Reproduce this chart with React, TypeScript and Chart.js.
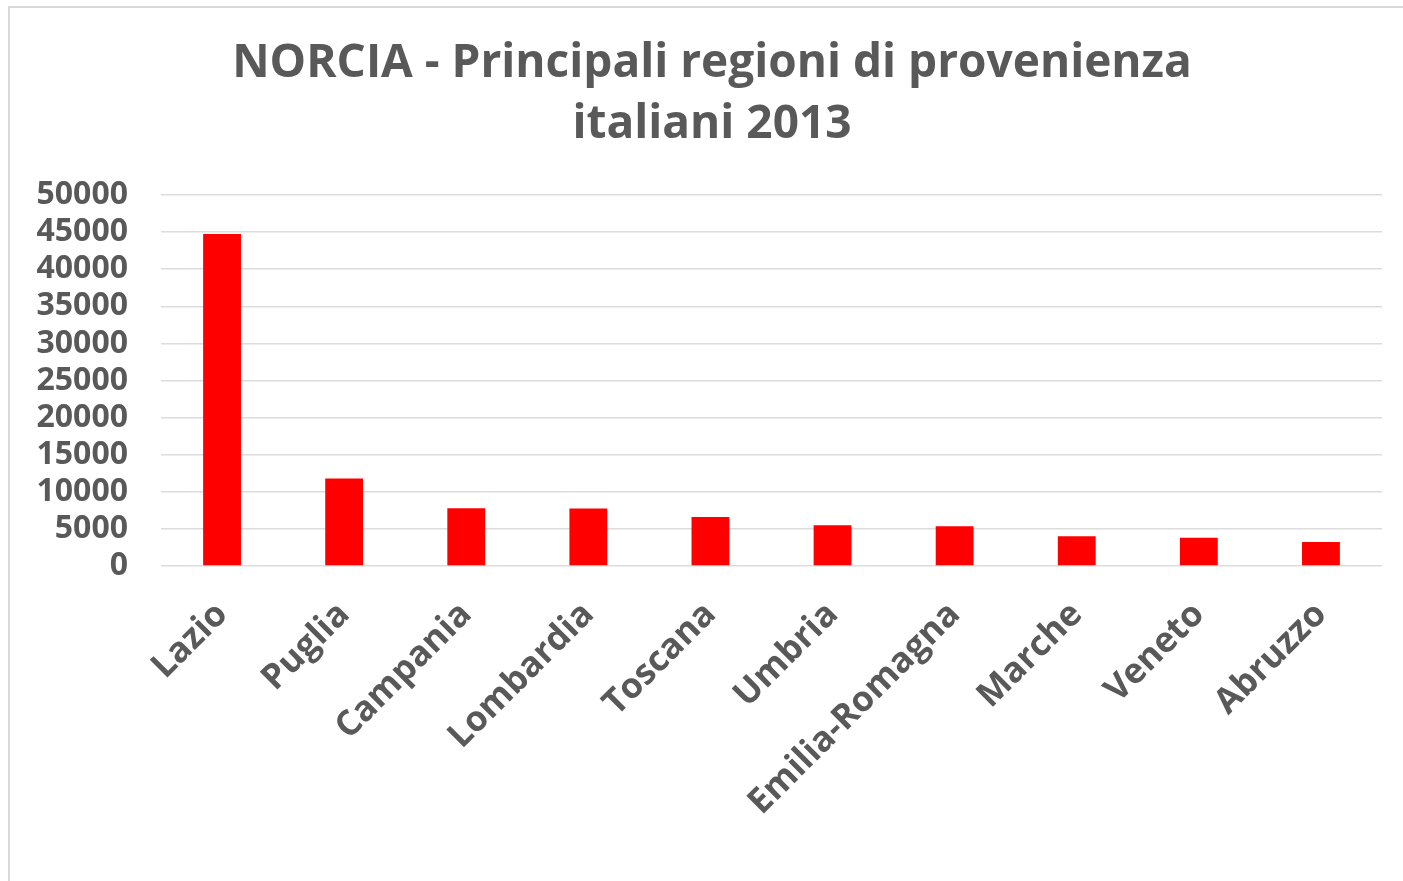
import React, { useEffect, useRef } from "react";
import { Chart, registerables } from "chart.js";

Chart.register(...registerables);

const titleLines = ["NORCIA - Principali regioni di provenienza", "italiani 2013"];
const regions = [
  "Lazio",
  "Puglia",
  "Campania",
  "Lombardia",
  "Toscana",
  "Umbria",
  "Emilia-Romagna",
  "Marche",
  "Veneto",
  "Abruzzo",
];
const arrivals = [44750, 11800, 7780, 7760, 6600, 5480, 5350, 4000, 3820, 3240];
const yMin = 0;
const yMax = 50000;
const yStep = 5000;

const TEXT = "#595959";
const FONT = "'Open Sans', 'DejaVu Sans', sans-serif";

// shifts the title's horizontal box so it is centred over the whole chart frame
const titleShift = {
  id: "titleShift",
  afterLayout(chart: any) {
    const t = chart.titleBlock;
    if (t) {
      t.left = 32;
    }
  },
};

export default function App() {
  const ref = useRef<HTMLCanvasElement>(null);

  useEffect(() => {
    if (!ref.current) return;
    const chart = new Chart(ref.current, {
      type: "bar",
      data: {
        labels: regions,
        datasets: [
          {
            data: arrivals,
            backgroundColor: "#ff0000",
            borderWidth: 0,
            barPercentage: 0.62,
            categoryPercentage: 0.5,
          },
        ],
      },
      plugins: [titleShift],
      options: {
        responsive: false,
        animation: false,
        layout: { padding: { left: 0, right: 48, top: 0, bottom: 0 } },
        plugins: {
          legend: { display: false },
          tooltip: { enabled: false },
          title: {
            display: true,
            text: titleLines,
            color: TEXT,
            font: { family: FONT, size: 46, weight: "bold", lineHeight: 1.326 },
            padding: { top: 25, bottom: 40 },
          },
        },
        scales: {
          x: {
            grid: { display: false, drawTicks: false },
            border: { display: false },
            ticks: {
              color: TEXT,
              font: { family: FONT, size: 35, weight: "bold" },
              maxRotation: 45,
              minRotation: 45,
              autoSkip: false,
              padding: 28,
            },
            afterFit: (s: any) => {
              s.height = 315;
            },
          },
          y: {
            min: yMin,
            max: yMax,
            grid: { color: "#dcdcdc", lineWidth: 1.5, drawTicks: false },
            border: { display: false },
            ticks: {
              stepSize: yStep,
              autoSkip: false,
              color: TEXT,
              font: { family: FONT, size: 32, weight: "bold" },
              padding: 33,
              callback: (v: any) => String(v),
            },
            afterFit: (s: any) => {
              s.width = 151;
            },
          },
        },
      },
    });
    return () => chart.destroy();
  }, []);

  return (
    <div style={{ position: "fixed", inset: 0, overflow: "hidden", background: "#fff" }}>
      <div
        style={{
          position: "absolute",
          left: 8,
          top: 6,
          width: 1420,
          height: 900,
          border: "2px solid #d9d9d9",
          boxSizing: "border-box",
        }}
      />
      <canvas
        ref={ref}
        width={1420}
        height={873}
        style={{ position: "absolute", left: 10, top: 8, width: 1420, height: 873 }}
      />
    </div>
  );
}
